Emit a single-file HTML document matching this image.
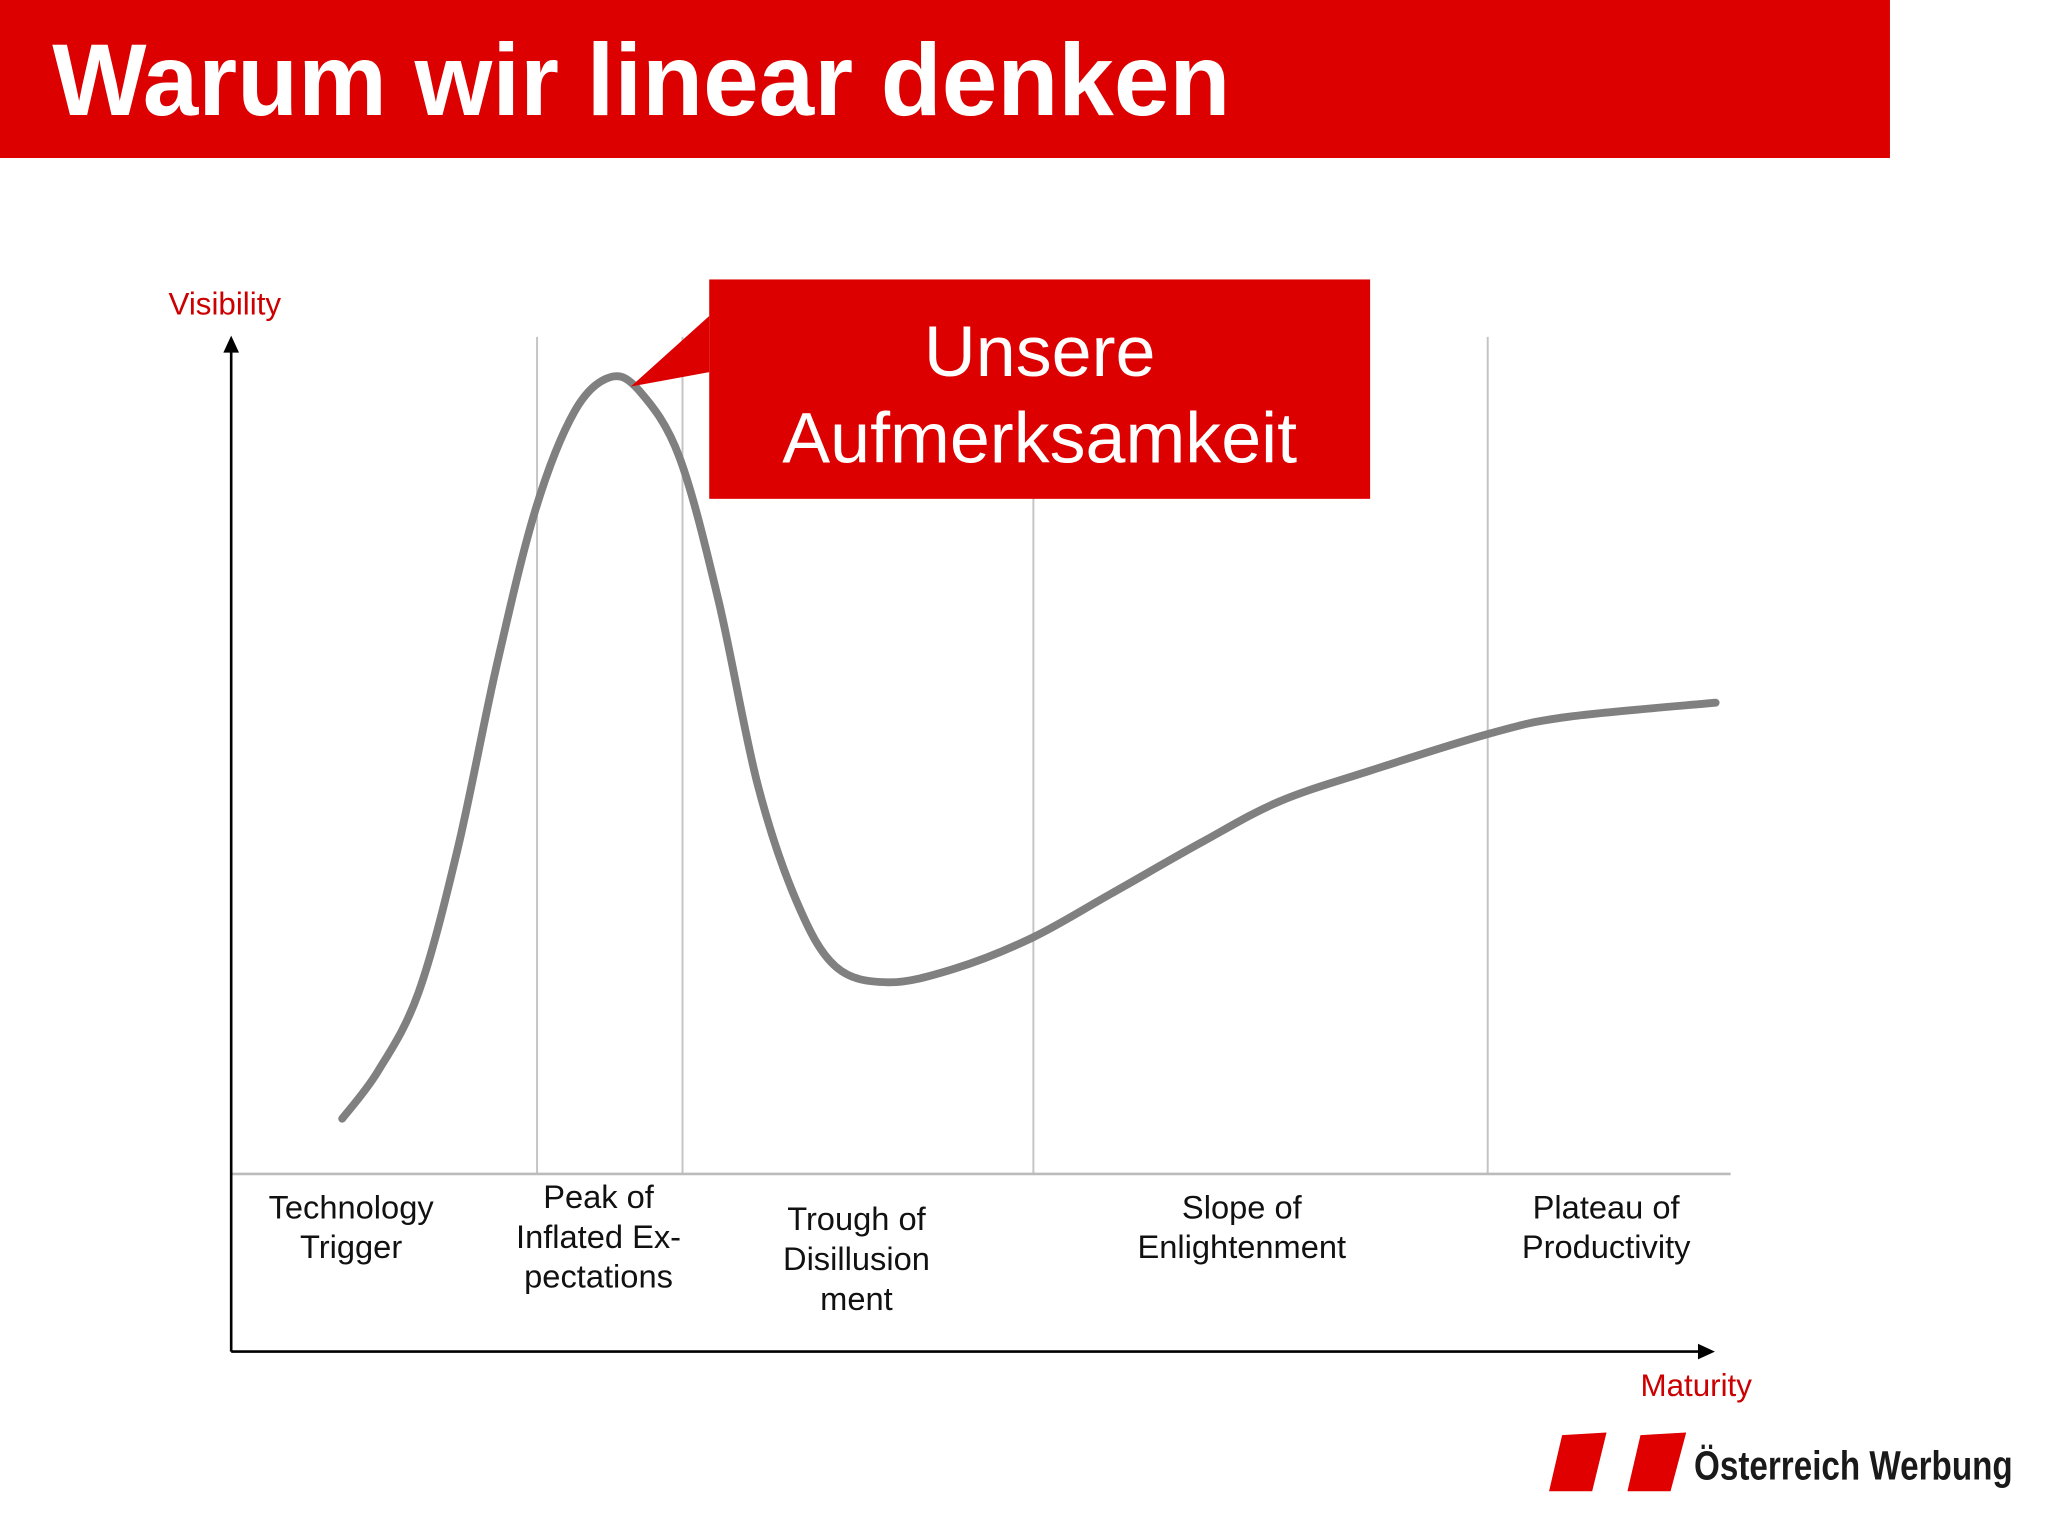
<!DOCTYPE html>
<html><head><meta charset="utf-8"><style>
html,body{margin:0;padding:0;background:#fff;}
svg{display:block;}
text{font-family:"Liberation Sans",sans-serif;}
</style></head><body>
<svg id="chart" width="2048" height="1537" viewBox="0 0 1568 1177" preserveAspectRatio="none" xmlns="http://www.w3.org/2000/svg">
<rect x="0" y="0" width="1447" height="121" fill="#dc0000"/>
<text x="40" y="88" font-size="78" font-weight="bold" fill="#fff" textLength="902" lengthAdjust="spacingAndGlyphs">Warum wir linear denken</text>
<text x="129" y="241" font-size="24" fill="#cc0000">Visibility</text>
<text x="1256" y="1069" font-size="24" fill="#cc0000">Maturity</text>
<g id="grid"></g>
<line x1="177" y1="899" x2="1325" y2="899" stroke="#bbb" stroke-width="2"/>
<line x1="177" y1="1035" x2="177" y2="266" stroke="#000" stroke-width="2"/>
<polygon points="177,257 171,270 183,270" fill="#000"/>
<line x1="177" y1="1035" x2="1302" y2="1035" stroke="#000" stroke-width="2"/>
<polygon points="1313,1035 1300,1029 1300,1041" fill="#000"/>
<path id="curve" fill="none" stroke="#808080" stroke-width="6" stroke-linecap="round"/>
<polygon points="543,242 483,296 543,285" fill="#dc0000"/>
<rect x="543" y="214" width="506" height="168" fill="#dc0000"/>
<text x="796" y="288" font-size="55" fill="#fff" text-anchor="middle">Unsere</text>
<text x="796" y="354" font-size="55" fill="#fff" text-anchor="middle">Aufmerksamkeit</text>
<g id="labels" font-size="25" fill="#111" text-anchor="middle"></g>
<g>
<polygon points="1196,1099 1230,1097 1219,1142 1186,1142" fill="#e00000"/>
<polygon points="1256,1099 1291,1097 1279,1142 1246,1142" fill="#e00000"/>
<text x="1297" y="1133" font-size="31" font-weight="bold" fill="#1a1a1a" textLength="244" lengthAdjust="spacingAndGlyphs">Österreich Werbung</text>
</g>
</svg>
<script>
const maturity = [7.4,9.8,12.5,15.1,17.7,20.3,22.9,25.3,27.3,29.9,32.5,35.1,37.7,40.3,43.8,48.2,53.4,58.6,64.7,69.9,76.0,83.9,89.1,99.0];
const visibility = [6.6,12.3,21.7,38.8,60.7,79.4,91.1,95.2,93.4,85.6,68.5,46.6,32.6,24.8,22.9,24.5,28.2,33.4,39.6,44.5,48.2,52.6,54.6,56.3];
const phaseBounds = [20.4,30.1,53.5,83.8];
const phaseCenters = [8.0,24.5,41.7,67.4,91.7];
const phaseLabels = [["Technology","Trigger"],["Peak of","Inflated Ex-","pectations"],["Trough of","Disillusion","ment"],["Slope of","Enlightenment"],["Plateau of","Productivity"]];
const phaseTop = [925,917,934,925,925];

const X = v => 177 + v/100*1148;
const Y = v => 899 - v/100*641;
const NS = "http://www.w3.org/2000/svg";

const pts = maturity.map((m,i)=>[X(m),Y(visibility[i])]);
let d = "M"+pts[0][0]+","+pts[0][1];
for(let i=0;i<pts.length-1;i++){
  const p0=pts[Math.max(i-1,0)],p1=pts[i],p2=pts[i+1],p3=pts[Math.min(i+2,pts.length-1)];
  const c1=[p1[0]+(p2[0]-p0[0])/6,p1[1]+(p2[1]-p0[1])/6];
  const c2=[p2[0]-(p3[0]-p1[0])/6,p2[1]-(p3[1]-p1[1])/6];
  d+=` C${c1[0]},${c1[1]} ${c2[0]},${c2[1]} ${p2[0]},${p2[1]}`;
}
document.getElementById('curve').setAttribute('d',d);

const grid=document.getElementById('grid');
phaseBounds.forEach(b=>{
  const l=document.createElementNS(NS,'line');
  
  
  l.setAttribute('x1',X(b));l.setAttribute('x2',X(b));
  l.setAttribute('y1',258);l.setAttribute('y2',899);
  l.setAttribute('stroke','#c4c4c4');l.setAttribute('stroke-width','1.5');
  grid.appendChild(l);
});

const lg=document.getElementById('labels');
phaseLabels.forEach((lines,i)=>{
  const t=document.createElementNS(NS,'text');
  
  
  lines.forEach((s,j)=>{
    const ts=document.createElementNS(NS,'tspan');
    ts.setAttribute('x',X(phaseCenters[i]));
    ts.setAttribute('y',phaseTop[i]+8+j*30.5);
    ts.textContent=s;
    t.appendChild(ts);
  });
  lg.appendChild(t);
});
</script>
</body></html>
